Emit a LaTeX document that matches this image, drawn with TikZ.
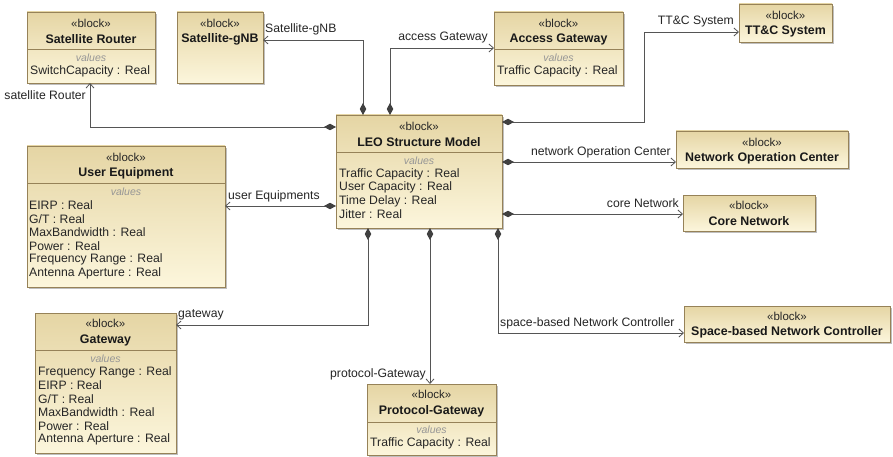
\documentclass[tikz,border=0pt]{standalone}
\usepackage{fontspec}
\setmainfont{Liberation Sans}
\usetikzlibrary{arrows.meta,shadows}
\definecolor{blkTop}{RGB}{229,213,164}
\definecolor{blkBot}{RGB}{252,246,220}
\definecolor{blkLine}{RGB}{150,130,88}
\definecolor{wire}{RGB}{85,85,85}
\definecolor{valGray}{RGB}{150,150,150}
\tikzset{
  blk/.style={draw=blkLine, line width=0.8pt, top color=blkTop, bottom color=blkBot,
    outer sep=0pt, inner sep=0pt, anchor=north west,
    drop shadow={shadow xshift=2pt,shadow yshift=-2pt,fill=black,opacity=0.25}},
  sep/.style={draw=blkLine, line width=0.8pt},
  stereo/.style={font=\fontsize{11.5}{13}\selectfont, text=black!85, inner sep=0pt},
  title/.style={font=\bfseries\fontsize{12.4}{14}\selectfont, text=black!90, inner sep=0pt},
  valhead/.style={font=\itshape\fontsize{10.5}{12}\selectfont, text=valGray, inner sep=0pt},
  attr/.style={font=\fontsize{12.2}{13.5}\selectfont, text=black!85, inner sep=0pt, anchor=west},
  lbl/.style={font=\fontsize{12.2}{13.5}\selectfont, text=black!85, inner sep=0pt},
  conn/.style={draw=wire, line width=0.8pt,
    {Diamond[length=12pt,width=6.5pt,fill=black!75,color=black!75]}-{Straight Barb[length=4.5pt,width=8pt]}},
}
\begin{document}
\begin{tikzpicture}[x=1pt,y=-1pt]
\useasboundingbox[fill=white] (0,0) rectangle (893,457);

% ---------- blocks ----------
% Satellite Router
\node[blk, minimum width=128pt, minimum height=71pt] (sr) at (27,12) {};
\draw[sep] (sr.west |- 0,49) -- (sr.east |- 0,49);
\node[stereo] (sr-s) at (91,23) {«block»};
\node[title]  (sr-t) at (91,39) {Satellite Router};
\node[valhead] (sr-v) at (91,58) {values};
\node[attr] (sr-a1) at (30,71) {SwitchCapacity : Real};

% Satellite-gNB
\node[blk, minimum width=86pt, minimum height=71pt] (gnb) at (177,12) {};
\node[stereo] (gnb-s) at (220,23) {«block»};
\node[title]  (gnb-t) at (220,39) {Satellite-gNB};

% Access Gateway
\node[blk, minimum width=129pt, minimum height=73pt] (ag) at (494,12) {};
\draw[sep] (ag.west |- 0,49) -- (ag.east |- 0,49);
\node[stereo] (ag-s) at (558.5,23) {«block»};
\node[title]  (ag-t) at (558.5,39) {Access Gateway};
\node[valhead] (ag-v) at (558.5,58) {values};
\node[attr] (ag-a1) at (497,71) {Traffic Capacity : Real};

% TT&C System
\node[blk, minimum width=93pt, minimum height=38pt] (ttc) at (739,4) {};
\node[stereo] (ttc-s) at (785.5,15) {«block»};
\node[title]  (ttc-t) at (785.5,31) {TT\&C System};

% LEO Structure Model
\node[blk, minimum width=166pt, minimum height=113pt] (leo) at (336,115) {};
\draw[sep] (leo.west |- 0,152) -- (leo.east |- 0,152);
\node[stereo] (leo-s) at (419,126) {«block»};
\node[title]  (leo-t) at (419,142) {LEO Structure Model};
\node[valhead] (leo-v) at (419,161) {values};
\node[attr] (leo-a1) at (339,174) {Traffic Capacity : Real};
\node[attr] (leo-a2) at (339,187.5) {User Capacity : Real};
\node[attr] (leo-a3) at (339,201) {Time Delay : Real};
\node[attr] (leo-a4) at (339,214.5) {Jitter : Real};

% Network Operation Center
\node[blk, minimum width=172pt, minimum height=37pt] (noc) at (676,131) {};
\node[stereo] (noc-s) at (762,142) {«block»};
\node[title]  (noc-t) at (762,158) {Network Operation Center};

% Core Network
\node[blk, minimum width=132pt, minimum height=36pt] (core) at (683,195) {};
\node[stereo] (core-s) at (749,205) {«block»};
\node[title]  (core-t) at (749,221) {Core Network};

% User Equipment
\node[blk, minimum width=198pt, minimum height=141pt] (ue) at (27,146) {};
\draw[sep] (ue.west |- 0,183) -- (ue.east |- 0,183);
\node[stereo] (ue-s) at (126,157) {«block»};
\node[title]  (ue-t) at (126,173) {User Equipment};
\node[valhead] (ue-v) at (126,192) {values};
\node[attr] (ue-a1) at (29,205.5) {EIRP : Real};
\node[attr] (ue-a2) at (29,219) {G/T : Real};
\node[attr] (ue-a3) at (29,232.5) {MaxBandwidth : Real};
\node[attr] (ue-a4) at (29,246) {Power : Real};
\node[attr] (ue-a5) at (29,259.5) {Frequency Range : Real};
\node[attr] (ue-a6) at (29,273) {Antenna Aperture : Real};

% Gateway
\node[blk, minimum width=141pt, minimum height=140pt] (gw) at (35,313) {};
\draw[sep] (gw.west |- 0,350) -- (gw.east |- 0,350);
\node[stereo] (gw-s) at (105.5,323) {«block»};
\node[title]  (gw-t) at (105.5,340) {Gateway};
\node[valhead] (gw-v) at (105.5,359) {values};
\node[attr] (gw-a1) at (38,372) {Frequency Range : Real};
\node[attr] (gw-a2) at (38,385.5) {EIRP : Real};
\node[attr] (gw-a3) at (38,399) {G/T : Real};
\node[attr] (gw-a4) at (38,412.5) {MaxBandwidth : Real};
\node[attr] (gw-a5) at (38,426) {Power : Real};
\node[attr] (gw-a6) at (38,439.5) {Antenna Aperture : Real};

% Protocol-Gateway
\node[blk, minimum width=129pt, minimum height=71pt] (pg) at (367,384) {};
\draw[sep] (pg.west |- 0,422) -- (pg.east |- 0,422);
\node[stereo] (pg-s) at (431.5,394) {«block»};
\node[title]  (pg-t) at (431.5,411) {Protocol-Gateway};
\node[valhead] (pg-v) at (431.5,430) {values};
\node[attr] (pg-a1) at (370,443) {Traffic Capacity : Real};

% Space-based Network Controller
\node[blk, minimum width=206pt, minimum height=36pt] (snc) at (684,306) {};
\node[stereo] (snc-s) at (787,316) {«block»};
\node[title]  (snc-t) at (787,332) {Space-based Network Controller};

% ---------- part associations ----------
\coordinate (c1) at (363,115);
\draw[conn] (c1) |- (gnb.east |- 0,40);
\node[lbl, anchor=west] (l1) at (265,29) {Satellite-gNB};

\coordinate (c2) at (390,115);
\draw[conn] (c2) |- (ag.west |- 0,48);
\node[lbl, anchor=east] (l2) at (488,38) {access Gateway};

\coordinate (c3) at (502,122);
\draw[conn] (c3) -- (644,122) |- (ttc.west |- 0,32);
\node[lbl, anchor=east] (l3) at (734,22) {TT\&C System};

\coordinate (c4) at (336,127);
\draw[conn] (c4) -| (90,83);
\node[lbl, anchor=east] (l4) at (86,95) {satellite Router};

\coordinate (c5) at (336,206);
\draw[conn] (c5) -- (ue.east |- 0,206);
\node[lbl, anchor=west] (l5) at (228,196) {user Equipments};

\coordinate (c6) at (502,162);
\draw[conn] (c6) -- (noc.west |- 0,162);
\node[lbl, anchor=east] (l6) at (671,152) {network Operation Center};

\coordinate (c7) at (502,214);
\draw[conn] (c7) -- (core.west |- 0,214);
\node[lbl, anchor=east] (l7) at (679,203) {core Network};

\coordinate (c8) at (368,228);
\draw[conn] (c8) |- (gw.east |- 0,325);
\node[lbl, anchor=west] (l8) at (178,315) {gateway};

\coordinate (c9) at (430,228);
\draw[conn] (c9) -- (pg.north -| 430,0);
\node[lbl, anchor=east] (l9) at (426,374) {protocol-Gateway};

\coordinate (c10) at (498,228);
\draw[conn] (c10) |- (snc.west |- 0,333);
\node[lbl, anchor=west] (l10) at (500,323) {space-based Network Controller};
\end{tikzpicture}
\end{document}
